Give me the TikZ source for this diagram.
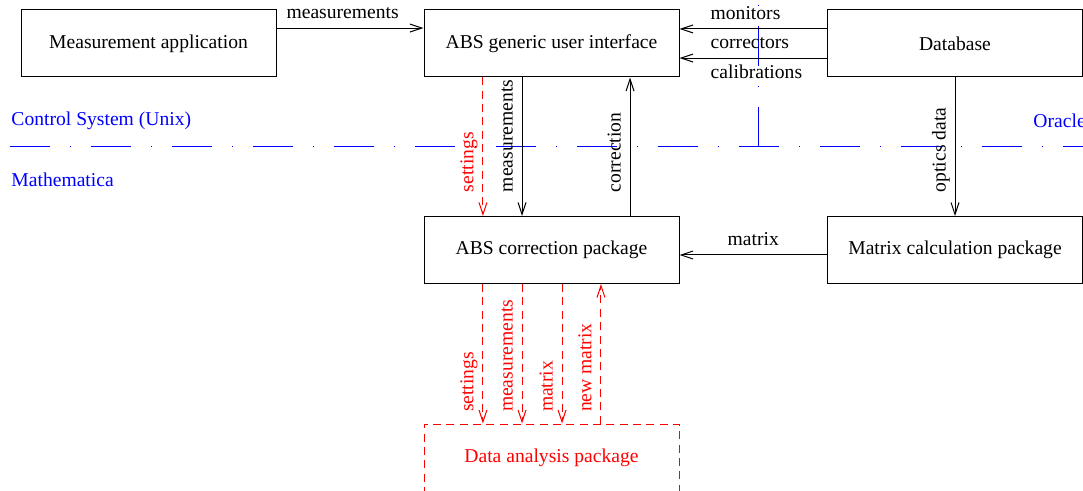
\documentclass[tikz,border=0pt]{standalone}
\usepackage{fontspec}
\setmainfont{Liberation Serif}
\usetikzlibrary{arrows.meta}

\tikzset{
  box/.style={draw, minimum width=191.25pt, minimum height=50.25pt, inner sep=0pt},
  flow/.style={-{Straight Barb[length=9pt,width=6pt]}},
  dataflow/.style={flow, red, dash pattern=on 6pt off 4pt},
  lbl/.style={inner xsep=2pt, inner ysep=3.25pt, text depth=3.5pt},
  vlbl/.style={lbl, rotate=90, anchor=south west},
  zone/.style={blue, dash pattern=on 30pt off 15pt on 0.75pt off 15pt},
  zonetext/.style={blue, anchor=west, inner sep=2pt},
}

\begin{document}
\begin{tikzpicture}[x=0.75pt,y=0.75pt,line width=0.75pt,font=\fontsize{14.7}{17}\selectfont]
\clip (0,0) rectangle (1083,490);

% Unix / Mathematica / Oracle border
\draw[zone] (10,343) -- (1083,343);
\draw[zone] (758,343) -- (758,490);
\node[zonetext] (unix) at (8.3,369) {Control System (Unix)};
\node[zonetext] (mma) at (8.3,310) {Mathematica};
\node[zonetext] (oracle) at (1030.3,369) {Oracle};

% boxes
\node[box] (meas) at (148.5,446.5) {Measurement application};
\node[box] (gui) at (551.5,446.5) {ABS generic user interface};
\node[box] (db) at (955,446.5) {Database};
\node[box] (corr) at (551.5,240) {ABS correction package};
\node[box] (mcalc) at (955,240) {Matrix calculation package};
\node[box, red, dash pattern=on 6pt off 4pt] (data) at (551.5,32.5) {Data analysis package};

% top row
\draw[flow] ([yshift=11.6pt]meas.east) -- node[lbl, pos=.45, above]{measurements} ([yshift=11.6pt]gui.west);
\draw[flow] ([yshift=10.9pt]db.west) -- node[lbl, pos=.81, anchor=south west]{monitors} ([yshift=10.9pt]gui.east);
\draw[flow] ([yshift=-10.9pt]db.west) -- node[lbl, pos=.81, anchor=south west]{correctors}
  node[pos=.81, anchor=north west, inner xsep=2pt, inner ysep=5pt]{calibrations} ([yshift=-10.9pt]gui.east);

% GUI <-> correction package
\draw[dataflow] ([xshift=-51.4pt]gui.south) -- node[vlbl, pos=.85]{settings} ([xshift=-51.4pt]corr.north);
\draw[flow] ([xshift=-22.1pt]gui.south) -- node[vlbl, pos=.85]{measurements} ([xshift=-22.1pt]corr.north);
\draw[flow] ([xshift=58.9pt]corr.north) -- node[vlbl, pos=.15]{correction} ([xshift=58.9pt]gui.south);
\draw[flow] (db) -- node[vlbl, pos=.85]{optics data} (mcalc);
\draw[flow] ([yshift=-3.75pt]mcalc.west) -- node[lbl, above]{matrix} ([yshift=-3.75pt]corr.east);

% correction package <-> data analysis
\draw[dataflow] ([xshift=-51.4pt]corr.south) -- node[vlbl, pos=.94]{settings} ([xshift=-51.4pt]data.north);
\draw[dataflow] ([xshift=-22.1pt]corr.south) -- node[vlbl, pos=.94]{measurements} ([xshift=-22.1pt]data.north);
\draw[dataflow] ([xshift=7.9pt]corr.south) -- node[vlbl, pos=.94]{matrix} ([xshift=7.9pt]data.north);
\draw[dataflow] ([xshift=37.1pt]data.north) -- node[vlbl, pos=.06]{new matrix} ([xshift=37.1pt]corr.south);
\end{tikzpicture}
\end{document}
